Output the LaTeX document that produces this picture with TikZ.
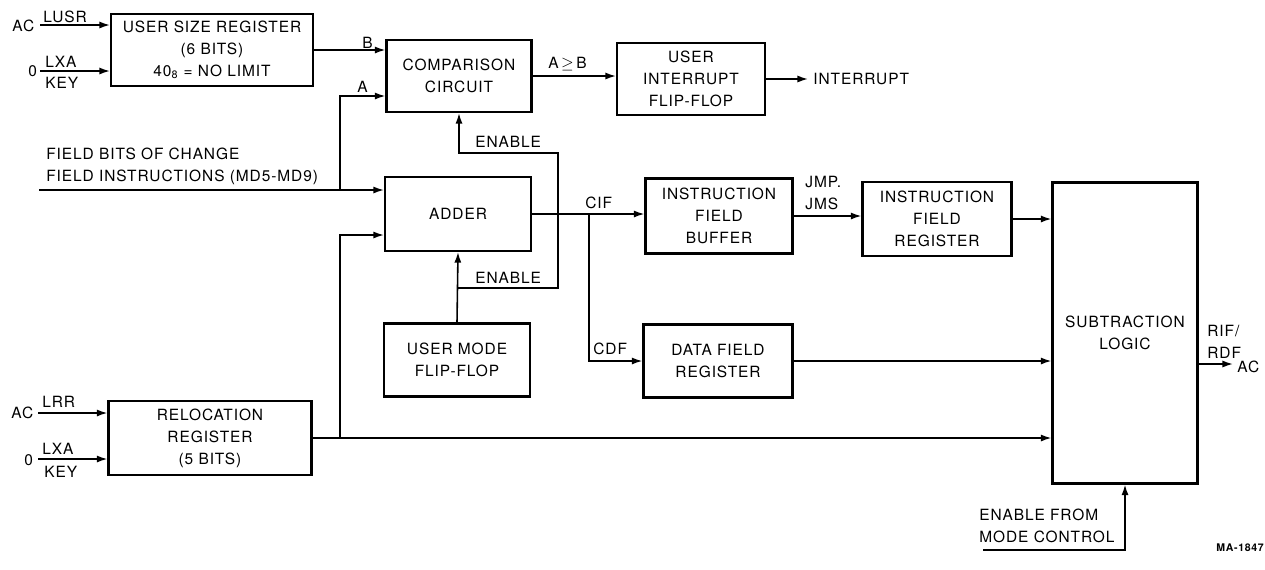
\documentclass[tikz,border=0pt]{standalone}
\usepackage{fontspec}
\setmainfont{TeX Gyre Heros}[LetterSpace=6]
\usetikzlibrary{arrows.meta, calc}
\tikzset{
	every node/.style={
		font=\fontsize{8.8}{12.5}\selectfont
	},
	unit/.style={
		shape=rectangle,
		draw,
		line width=1.2pt,
		inner sep=0pt,
		align=center
	},
	sig/.style={
		anchor=base west,
		inner sep=0pt
	},
	note/.style={
		anchor=north west,
		inner sep=0pt,
		align=left
	},
	wire/.style={
		line width=0.9pt
	},
	feed/.style={
		wire,
		-{Latex[length=6pt,width=4pt]}
	}
}

\begin{document}
\begin{tikzpicture}[x=0.02cm, y=-0.02cm]
	\useasboundingbox (0,0) rectangle (1265,569);
	
	% blocks
	\node[unit, minimum width=4.04cm, minimum height=1.44cm] (usr) at (212,50) {USER SIZE REGISTER\\(6 BITS)\\40\textsubscript{8} = NO LIMIT};
	\node[unit, minimum width=2.9cm, minimum height=1.44cm] (cmp) at (459,76) {COMPARISON\\CIRCUIT};
	\node[unit, minimum width=2.96cm, minimum height=1.44cm] (uif) at (691,79) {USER\\INTERRUPT\\FLIP-FLOP};
	\node[unit, minimum width=2.92cm, minimum height=1.48cm] (add) at (458,214) {ADDER};
	\node[unit, minimum width=2.92cm, minimum height=1.46cm] (umf) at (457,360) {USER MODE\\FLIP-FLOP};
	\node[unit, minimum width=4.06cm, minimum height=1.48cm] (rel) at (210,438) {RELOCATION\\REGISTER\\(5 BITS)};
	\node[unit, minimum width=2.94cm, minimum height=1.5cm] (ifb) at (719,216) {INSTRUCTION\\FIELD\\BUFFER};
	\node[unit, minimum width=2.98cm, minimum height=1.48cm] (ifr) at (937,219) {INSTRUCTION\\FIELD\\REGISTER};
	\node[unit, minimum width=2.98cm, minimum height=1.46cm] (dfr) at (718,361) {DATA FIELD\\REGISTER};
	\node[unit, minimum width=2.9cm, minimum height=6.02cm] (sub) at (1125,333) {SUBTRACTION\\LOGIC};
	
	% inputs of the user size register
	\coordinate (usrin1) at (40,25);
	\coordinate (usrin2) at (40,71);
	\draw[feed] (usrin1) -- (usrin1 -| usr.west);
	\draw[feed] (usrin2) -- (usrin2 -| usr.west);
	\node[sig] (usrac) at (12,31) {AC};
	\node[sig] (usrld) at (43,22) {LUSR};
	\node[sig] (usrzero) at (28,76) {0};
	\node[sig] (usrlxa) at (45,67) {LXA};
	\node[sig] (usrkey) at (45,88) {KEY};
	
	% inputs of the relocation register
	\coordinate (relin1) at (38,413);
	\coordinate (relin2) at (38,459);
	\draw[feed] (relin1) -- (relin1 -| rel.west);
	\draw[feed] (relin2) -- (relin2 -| rel.west);
	\node[sig] (relac) at (11,418) {AC};
	\node[sig] (relld) at (42,407) {LRR};
	\node[sig] (relzero) at (24,465) {0};
	\node[sig] (rellxa) at (42,454) {LXA};
	\node[sig] (relkey) at (44,477) {KEY};
	
	% field bits and comparison inputs
	\coordinate (fin) at (39,190);
	\coordinate (abr) at (340,190);
	\coordinate (acorner) at (340,96);
	\draw[feed] (fin) -- (fin -| add.west);
	\node[note] (fbits) at (46,148) {FIELD BITS OF CHANGE\\FIELD INSTRUCTIONS (MD5-MD9)};
	\draw[feed] (abr) -- (acorner) -- (acorner -| cmp.west);
	\draw[feed] (usr.east) -- (usr.east -| cmp.west);
	\node[sig] (blab) at (362,48) {B};
	\node[sig] (alab) at (357,92) {A};
	
	% relocation output
	\coordinate (relj) at (340,438);
	\coordinate (rcorner) at (340,235);
	\draw[feed] (rel.east) -- (rel.east -| sub.west);
	\draw[feed] (relj) -- (rcorner) -- (rcorner -| add.west);
	
	% enable lines
	\coordinate (enj) at (457,288);
	\draw[feed] (umf.north) -- (add.south);
	\draw[feed] (enj) -- (558,288) -- (558,153) -| (cmp.south);
	\node[sig] (enup) at (475,147) {ENABLE};
	\node[sig] (endown) at (475,283) {ENABLE};
	
	% comparison output
	\coordinate (intr) at (808,79);
	\draw[feed] (cmp.east) -- (cmp.east -| uif.west);
	\node[sig] (geq) at (548,68) {A\,$\geq$\,B};
	\draw[feed] (uif.east) -- (intr);
	\node[sig] (intlab) at (813,84) {INTERRUPT};
	
	% field paths
	\coordinate (cifj) at (589,214);
	\draw[feed] (add.east) -- (add.east -| ifb.west);
	\draw[feed] (cifj) |- (dfr.west);
	\node[sig] (ciflab) at (585,208) {CIF};
	\node[sig] (cdflab) at (593,354) {CDF};
	\draw[feed] (ifb.east) -- (ifb.east -| ifr.west);
	\node[note] (jmplab) at (805,176) {JMP.\\JMS};
	\draw[feed] (ifr.east) -- (ifr.east -| sub.west);
	\draw[feed] (dfr.east) -- (dfr.east -| sub.west);
	
	% subtraction logic
	\coordinate (subout) at (1233,364);
	\coordinate (mcs) at (983,550);
	\draw[feed] (sub.east |- subout) -- (subout);
	\node[note] (riflab) at (1207,325) {RIF/\\RDF};
	\node[sig] (outac) at (1237,372) {AC};
	\draw[feed] (mcs) -| (sub.south);
	\node[note] (mclab) at (979,509) {ENABLE FROM\\MODE CONTROL};
	
	\node[anchor=base east, inner sep=0pt, font=\fontsize{6}{7}\selectfont\bfseries] (tag) at (1264,551) {MA-1847};
	
\end{tikzpicture}
\end{document}
